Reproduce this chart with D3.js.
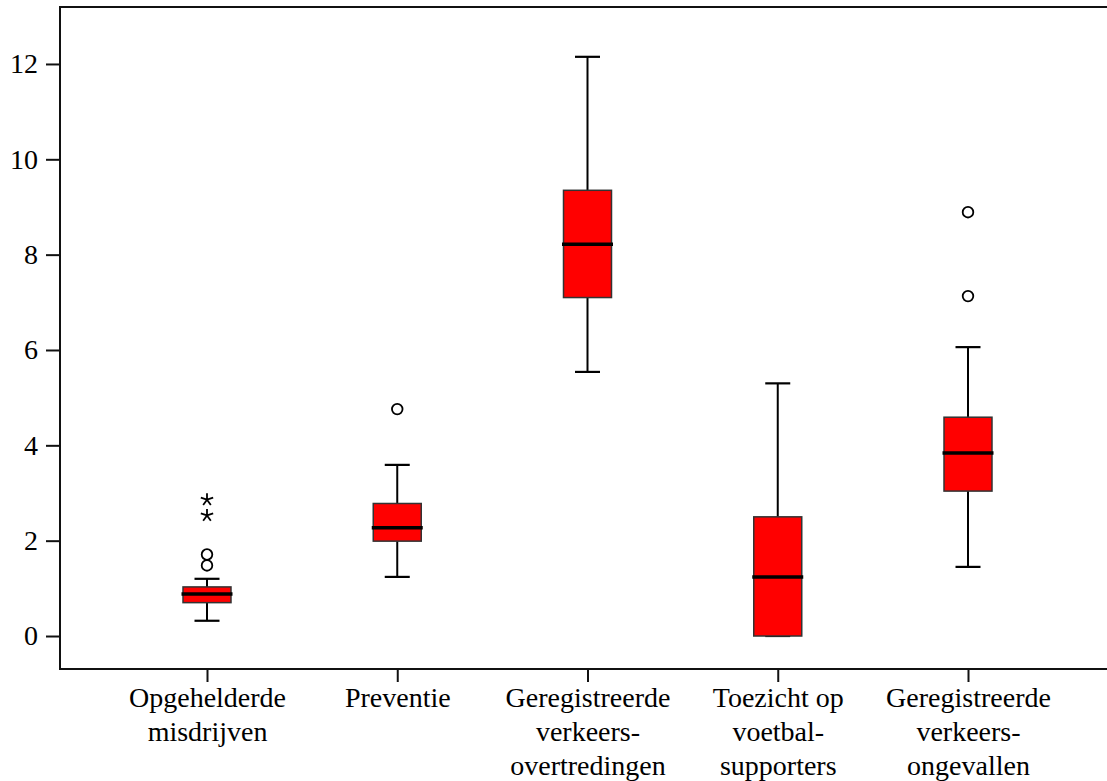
<!DOCTYPE html>
<html>
<head>
<meta charset="utf-8">
<script src="https://cdn.jsdelivr.net/npm/d3@7/dist/d3.min.js"></script>
<style>
  html, body { margin: 0; padding: 0; background: #fff; }
  svg { display: block; }
  svg text { font-family: "Liberation Serif", "Times New Roman", Times, "DejaVu Serif", serif; fill: #000; }
</style>
</head>
<body>
<svg id="chart" width="1107" height="781"></svg>
<script>
// Category labels (one entry per line of the label)
const categories = [
  ["Opgehelderde", "misdrijven"],
  ["Preventie"],
  ["Geregistreerde", "verkeers-", "overtredingen"],
  ["Toezicht op", "voetbal-", "supporters"],
  ["Geregistreerde", "verkeers-", "ongevallen"]
];

// Five-number summaries per category
const whiskerLow  = [0.32, 1.24, 5.54, 0.00, 1.45];
const q1          = [0.70, 1.99, 7.10, 0.00, 3.04];
const median      = [0.88, 2.27, 8.22, 1.24, 3.84];
const q3          = [1.03, 2.78, 9.35, 2.50, 4.59];
const whiskerHigh = [1.20, 3.59, 12.15, 5.30, 6.06];

// Outliers (circles) and extreme values (stars), per category
const outliers = [[1.48, 1.71], [4.76], [], [], [7.13, 8.89]];
const extremes = [[2.53, 2.86], [], [], [], []];

const yTicks = [0, 2, 4, 6, 8, 10, 12];

const serif = '"Liberation Serif", "Times New Roman", Times, "DejaVu Serif", serif';

const svg = d3.select("#chart");

const frame = { left: 60, right: 1112, top: 7, bottom: 669 };

const keys = categories.map((c, i) => i);
const x = d3.scalePoint().domain(keys).range([207, 968]);
const y = d3.scaleLinear().domain([-0.692, 13.195]).range([frame.bottom, frame.top]);

const boxW = 48, capW = 25;

// Plot frame
svg.append("rect")
  .attr("x", frame.left).attr("y", frame.top)
  .attr("width", frame.right - frame.left)
  .attr("height", frame.bottom - frame.top)
  .attr("fill", "none").attr("stroke", "#111").attr("stroke-width", 2);

// Y axis
const yAxis = svg.append("g")
  .attr("transform", `translate(${frame.left},0)`)
  .call(d3.axisLeft(y).tickValues(yTicks).tickSize(14).tickPadding(8).tickFormat(d3.format("d")))
  .attr("font-family", null).attr("font-size", null);
yAxis.select(".domain").remove();
yAxis.selectAll(".tick line").attr("stroke", "#111").attr("stroke-width", 2);
yAxis.selectAll(".tick text").style("font-size", "28px").style("font-family", serif);

// X axis
const xAxis = svg.append("g")
  .attr("transform", `translate(0,${frame.bottom})`)
  .call(d3.axisBottom(x).tickSize(13).tickFormat(""))
  .attr("font-family", null).attr("font-size", null);
xAxis.select(".domain").remove();
xAxis.selectAll(".tick line").attr("stroke", "#111").attr("stroke-width", 2);

// Multi-line category labels
xAxis.selectAll(".tick").each(function (d) {
  const t = d3.select(this).select("text")
    .attr("y", 0).attr("dy", null)
    .style("font-size", "28px")
    .style("font-family", serif);
  categories[d].forEach((line, j) => {
    t.append("tspan").attr("x", 0).attr("y", 38 + j * 34).text(line);
  });
});

const boxes = svg.append("g").selectAll("g").data(keys).join("g")
  .attr("transform", i => `translate(${x(i)},0)`);

// Whiskers
boxes.append("line")
  .attr("x1", 0).attr("x2", 0)
  .attr("y1", i => y(whiskerHigh[i])).attr("y2", i => y(q3[i]))
  .attr("stroke", "#000").attr("stroke-width", 2);
boxes.append("line")
  .attr("x1", 0).attr("x2", 0)
  .attr("y1", i => y(q1[i])).attr("y2", i => y(whiskerLow[i]))
  .attr("stroke", "#000").attr("stroke-width", 2);
boxes.append("line")
  .attr("x1", -capW / 2).attr("x2", capW / 2)
  .attr("y1", i => y(whiskerHigh[i])).attr("y2", i => y(whiskerHigh[i]))
  .attr("stroke", "#000").attr("stroke-width", 2.2);
boxes.append("line")
  .attr("x1", -capW / 2).attr("x2", capW / 2)
  .attr("y1", i => y(whiskerLow[i])).attr("y2", i => y(whiskerLow[i]))
  .attr("stroke", "#000").attr("stroke-width", 2.2);

// Interquartile boxes
boxes.append("rect")
  .attr("x", -boxW / 2).attr("width", boxW)
  .attr("y", i => y(q3[i]))
  .attr("height", i => y(q1[i]) - y(q3[i]))
  .attr("fill", "#ff0000").attr("stroke", "#333").attr("stroke-width", 1.5);

// Medians
boxes.append("line")
  .attr("x1", -boxW / 2 - 1.5).attr("x2", boxW / 2 + 1.5)
  .attr("y1", i => y(median[i])).attr("y2", i => y(median[i]))
  .attr("stroke", "#000").attr("stroke-width", 3.5);

// Outlier circles
boxes.each(function (i) {
  d3.select(this).selectAll("circle").data(outliers[i]).join("circle")
    .attr("cx", 0).attr("cy", v => y(v)).attr("r", 5.3)
    .attr("fill", "none").attr("stroke", "#000").attr("stroke-width", 1.8);
});

// Extreme values as five-armed stars
const starPath = (() => {
  const r = 6.5;
  let p = "";
  for (let k = 0; k < 5; k++) {
    const a = -Math.PI / 2 + k * 2 * Math.PI / 5;
    p += `M0,0L${(r * Math.cos(a)).toFixed(2)},${(r * Math.sin(a)).toFixed(2)}`;
  }
  return p;
})();
boxes.each(function (i) {
  d3.select(this).selectAll("path.star").data(extremes[i]).join("path")
    .attr("class", "star")
    .attr("d", starPath)
    .attr("transform", v => `translate(0,${y(v)})`)
    .attr("fill", "none").attr("stroke", "#000").attr("stroke-width", 1.8);
});
</script>
</body>
</html>
